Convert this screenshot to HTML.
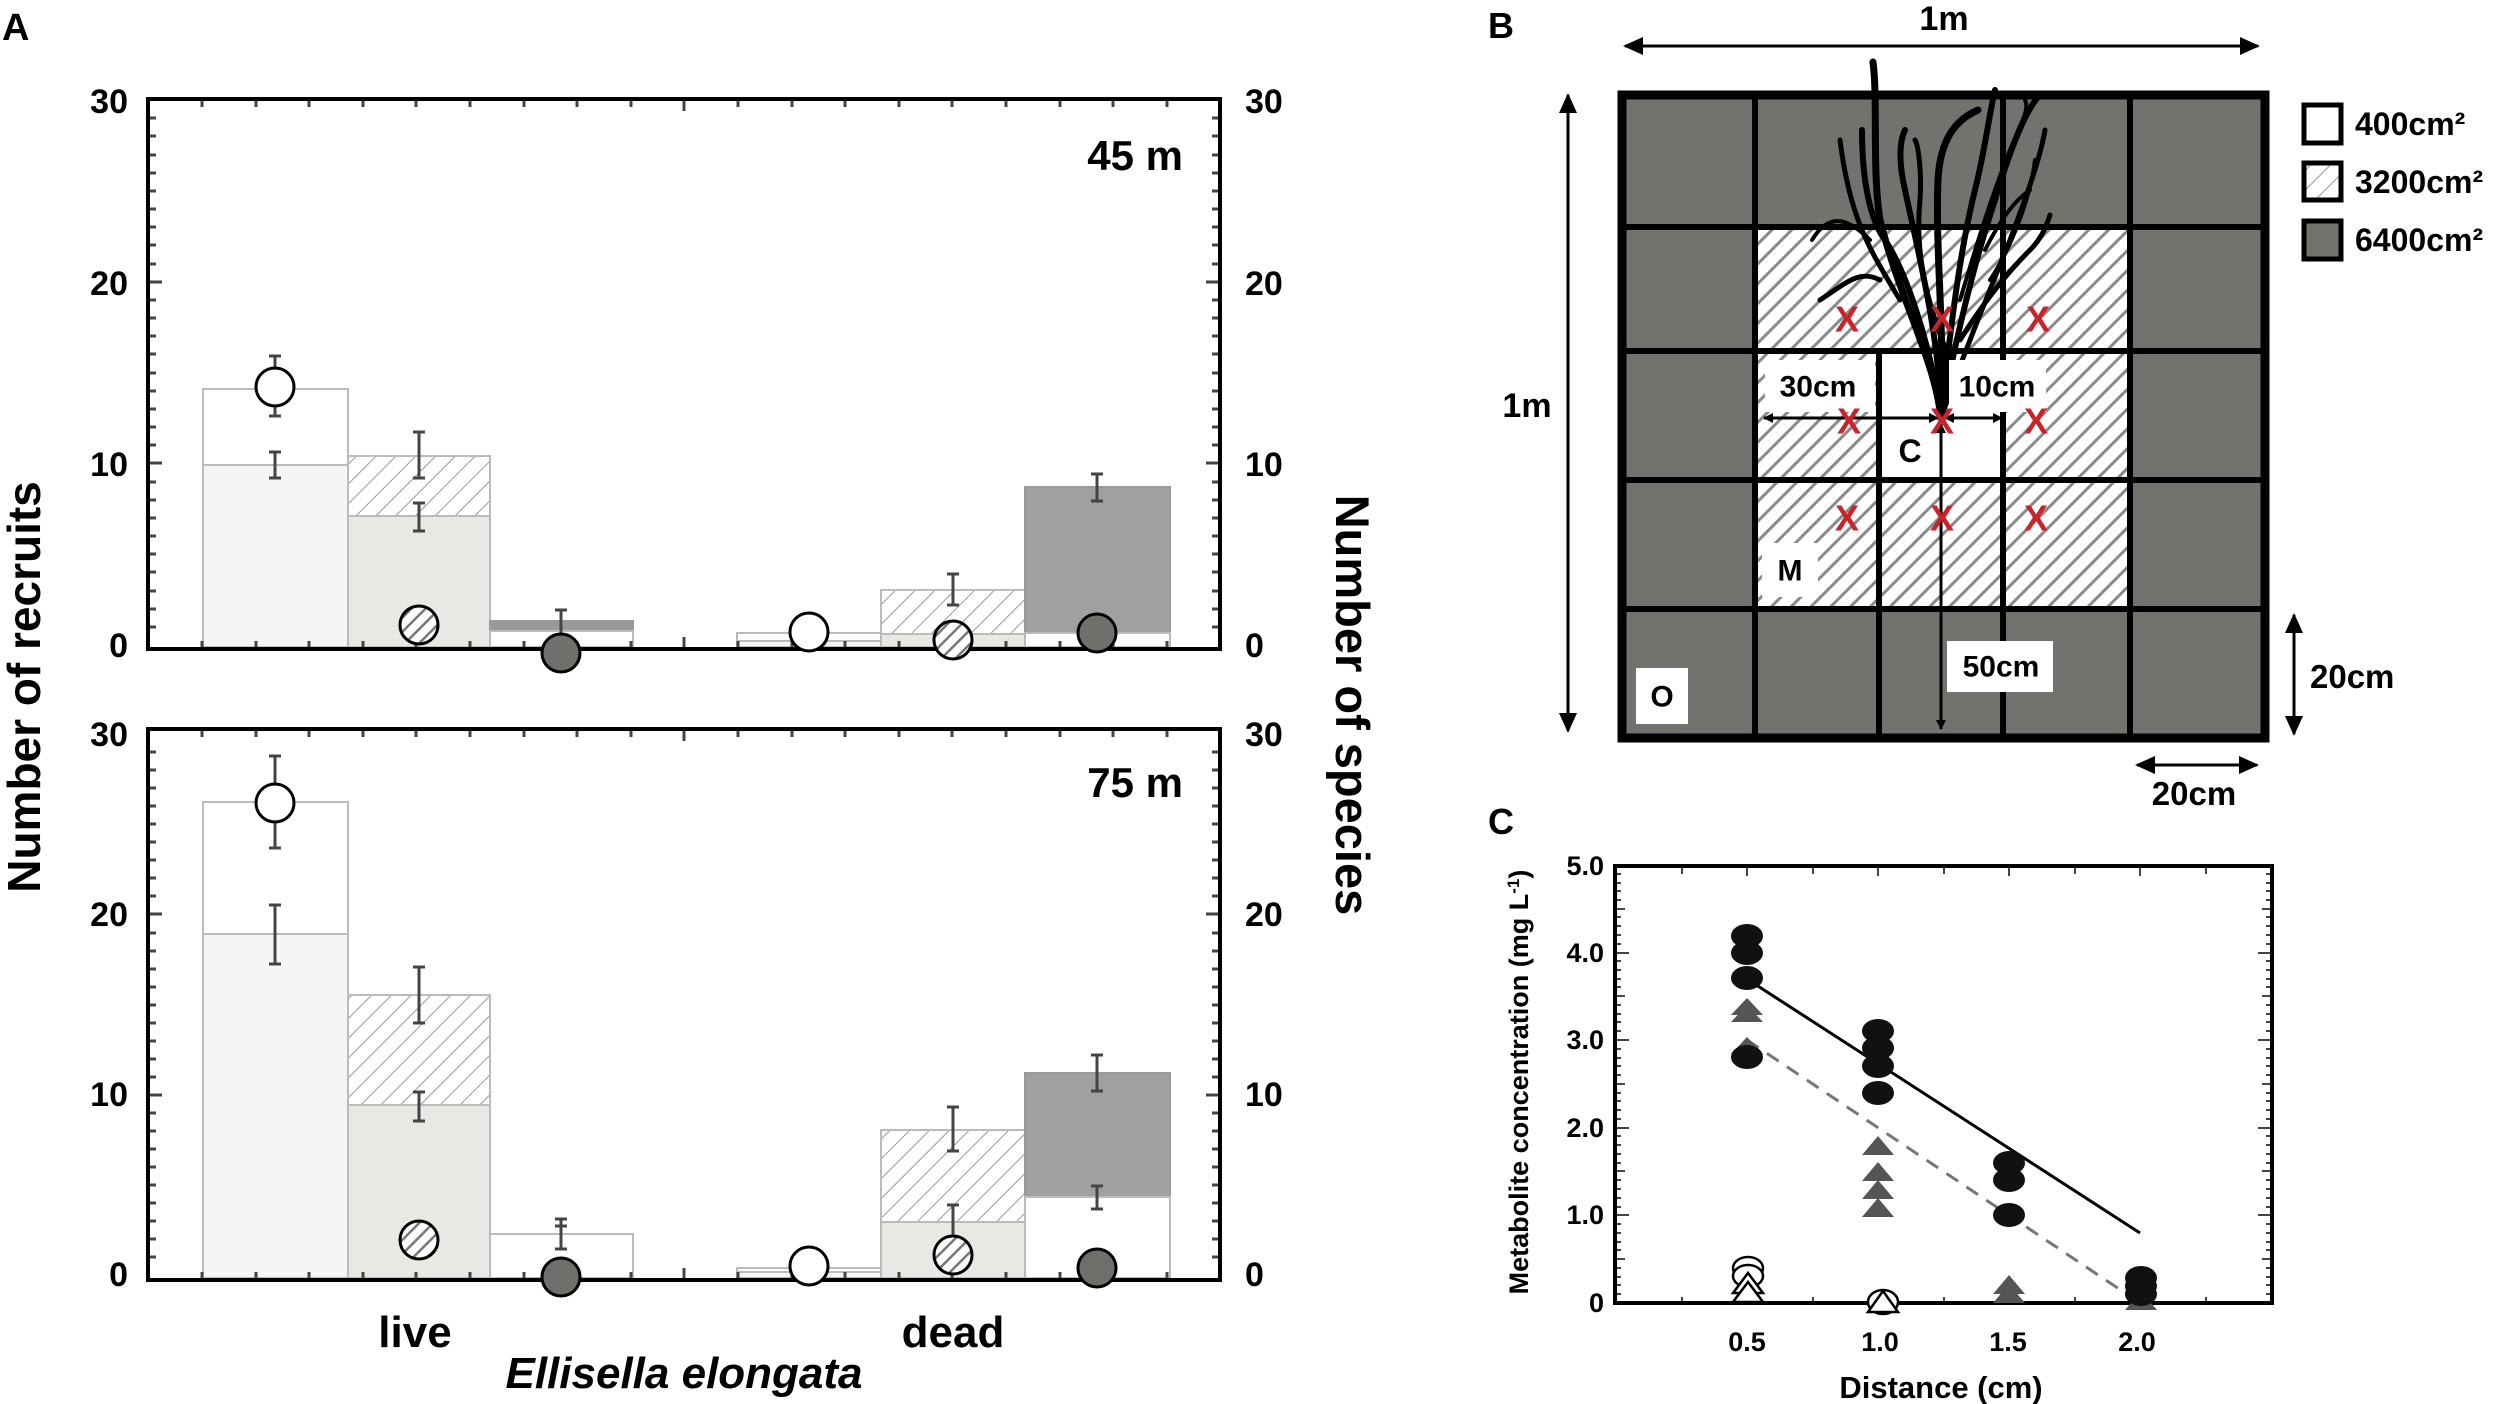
<!DOCTYPE html>
<html><head><meta charset="utf-8"><style>
html,body{margin:0;padding:0;background:#fff}
svg{display:block}
text{font-family:"Liberation Sans",Arial,sans-serif;font-weight:bold;fill:#000}
.n{font-family:"Liberation Sans Narrow","Liberation Sans",sans-serif}
</style></head><body>
<svg width="2500" height="1404" viewBox="0 0 2500 1404" xmlns="http://www.w3.org/2000/svg">
<defs>
<pattern id="hb" patternUnits="userSpaceOnUse" width="14" height="14" patternTransform="rotate(45)">
<rect width="14" height="14" fill="#fff"/><line x1="0" y1="0" x2="0" y2="14" stroke="#999" stroke-width="2"/></pattern>
<pattern id="hc" patternUnits="userSpaceOnUse" width="10" height="10" patternTransform="rotate(45)">
<rect width="10" height="10" fill="#fff"/><line x1="0" y1="0" x2="0" y2="10" stroke="#777" stroke-width="5"/></pattern>
<pattern id="hg" patternUnits="userSpaceOnUse" width="14" height="14" patternTransform="rotate(45)">
<rect width="14" height="14" fill="#fff"/><line x1="0" y1="0" x2="0" y2="14" stroke="#8a8a8a" stroke-width="6"/></pattern>
<marker id="ar" markerWidth="10" markerHeight="10" refX="9" refY="5" orient="auto-start-reverse" markerUnits="userSpaceOnUse"><path d="M0,0 L10,5 L0,10 Z" fill="#000"/></marker>
<marker id="ar2" markerWidth="20" markerHeight="18" refX="18" refY="9" orient="auto-start-reverse" markerUnits="userSpaceOnUse"><path d="M0,0 L20,9 L0,18 Z" fill="#000"/></marker>
</defs>

<!-- Panel A -->
<text x="2" y="40" font-size="38">A</text>

<g stroke="#bbb" stroke-width="2">
<rect x="203" y="389" width="145" height="258" fill="#fff"/>
<rect x="203" y="465" width="145" height="182" fill="#f5f5f3"/>
<rect x="348" y="456" width="142" height="191" fill="url(#hb)"/>
<rect x="348" y="516" width="142" height="131" fill="#e8e8e4"/>
<rect x="490" y="621" width="143" height="10" fill="#999" stroke="#999"/>
<rect x="490" y="631" width="143" height="16" fill="#fff"/>
<rect x="737" y="633" width="144" height="14" fill="#fff"/>
<rect x="737" y="641" width="144" height="6" fill="#f5f5f3"/>
<rect x="881" y="590" width="144" height="57" fill="url(#hb)"/>
<rect x="881" y="634" width="144" height="13" fill="#e8e8e4"/>
<rect x="1025" y="487" width="145" height="146" fill="#a0a0a0" stroke="#999"/>
<rect x="1025" y="633" width="145" height="14" fill="#fff"/>
</g>
<g stroke="#444" stroke-width="3">
<path d="M275,356V416M269,356H281M269,416H281"/>
<path d="M275,452V478M269,452H281M269,478H281"/>
<path d="M419,432V478M413,432H425M413,478H425"/>
<path d="M419,503V531M413,503H425M413,531H425"/>
<path d="M561,610V638M555,610H567M555,638H567"/>
<path d="M953,574V605M947,574H959M947,605H959"/>
<path d="M1097,474V501M1091,474H1103M1091,501H1103"/>
</g>
<g stroke="#bbb" stroke-width="2">
<rect x="203" y="802" width="145" height="476" fill="#fff"/>
<rect x="203" y="934" width="145" height="344" fill="#f5f5f3"/>
<rect x="348" y="995" width="142" height="283" fill="url(#hb)"/>
<rect x="348" y="1105" width="142" height="173" fill="#e8e8e4"/>
<rect x="490" y="1234" width="143" height="44" fill="#fff"/>
<rect x="737" y="1268" width="144" height="10" fill="#fff"/>
<rect x="737" y="1272" width="144" height="6" fill="#f5f5f3"/>
<rect x="881" y="1130" width="144" height="148" fill="url(#hb)"/>
<rect x="881" y="1222" width="144" height="56" fill="#e8e8e4"/>
<rect x="1025" y="1073" width="145" height="124" fill="#a0a0a0" stroke="#999"/>
<rect x="1025" y="1197" width="145" height="81" fill="#fff"/>
</g>
<g stroke="#444" stroke-width="3">
<path d="M275,756V848M269,756H281M269,848H281"/>
<path d="M275,905V964M269,905H281M269,964H281"/>
<path d="M419,967V1023M413,967H425M413,1023H425"/>
<path d="M419,1092V1121M413,1092H425M413,1121H425"/>
<path d="M561,1219V1249M555,1219H567M555,1249H567M555,1226H567"/>
<path d="M953,1107V1151M947,1107H959M947,1151H959"/>
<path d="M953,1205V1248M947,1205H959M947,1248H959"/>
<path d="M1097,1055V1091M1091,1055H1103M1091,1091H1103"/>
<path d="M1097,1186V1209M1091,1186H1103M1091,1209H1103"/>
</g>

<g stroke="#444" stroke-width="3">
<path d="M148,627h8M148,609h8M148,591h8M148,572h8M148,554h8M148,536h8M148,518h8M148,500h8M148,482h8M148,463h14M148,445h8M148,427h8M148,409h8M148,391h8M148,373h8M148,354h8M148,336h8M148,318h8M148,300h8M148,282h14M148,264h8M148,245h8M148,227h8M148,209h8M148,191h8M148,173h8M148,155h8M148,136h8M148,118h8"/>
<path d="M1220,627h-8M1220,609h-8M1220,591h-8M1220,572h-8M1220,554h-8M1220,536h-8M1220,518h-8M1220,500h-8M1220,482h-8M1220,463h-14M1220,445h-8M1220,427h-8M1220,409h-8M1220,391h-8M1220,373h-8M1220,354h-8M1220,336h-8M1220,318h-8M1220,300h-8M1220,282h-14M1220,264h-8M1220,245h-8M1220,227h-8M1220,209h-8M1220,191h-8M1220,173h-8M1220,155h-8M1220,136h-8M1220,118h-8"/>
<path d="M148,1257h8M148,1239h8M148,1221h8M148,1203h8M148,1185h8M148,1167h8M148,1149h8M148,1131h8M148,1113h8M148,1095h14M148,1077h8M148,1059h8M148,1041h8M148,1023h8M148,1005h8M148,987h8M148,969h8M148,951h8M148,933h8M148,914h14M148,896h8M148,878h8M148,860h8M148,842h8M148,824h8M148,806h8M148,788h8M148,770h8M148,752h8"/>
<path d="M1220,1257h-8M1220,1239h-8M1220,1221h-8M1220,1203h-8M1220,1185h-8M1220,1167h-8M1220,1149h-8M1220,1131h-8M1220,1113h-8M1220,1095h-14M1220,1077h-8M1220,1059h-8M1220,1041h-8M1220,1023h-8M1220,1005h-8M1220,987h-8M1220,969h-8M1220,951h-8M1220,933h-8M1220,914h-14M1220,896h-8M1220,878h-8M1220,860h-8M1220,842h-8M1220,824h-8M1220,806h-8M1220,788h-8M1220,770h-8M1220,752h-8"/>
<path d="M202,99v8M256,99v8M309,99v8M363,99v8M416,99v8M470,99v8M524,99v8M577,99v8M631,99v8M684,99v12M738,99v8M792,99v8M845,99v8M899,99v8M952,99v8M1006,99v8M1060,99v8M1113,99v8M1167,99v8"/>
<path d="M202,649v-8M256,649v-8M309,649v-8M363,649v-8M416,649v-8M470,649v-8M524,649v-8M577,649v-8M631,649v-8M684,649v-12M738,649v-8M792,649v-8M845,649v-8M899,649v-8M952,649v-8M1006,649v-8M1060,649v-8M1113,649v-8M1167,649v-8"/>
<path d="M202,729v8M256,729v8M309,729v8M363,729v8M416,729v8M470,729v8M524,729v8M577,729v8M631,729v8M684,729v12M738,729v8M792,729v8M845,729v8M899,729v8M952,729v8M1006,729v8M1060,729v8M1113,729v8M1167,729v8"/>
<path d="M202,1280v-8M256,1280v-8M309,1280v-8M363,1280v-8M416,1280v-8M470,1280v-8M524,1280v-8M577,1280v-8M631,1280v-8M684,1280v-12M738,1280v-8M792,1280v-8M845,1280v-8M899,1280v-8M952,1280v-8M1006,1280v-8M1060,1280v-8M1113,1280v-8M1167,1280v-8"/>
</g>
<rect x="148" y="99" width="1072" height="550" fill="none" stroke="#000" stroke-width="4"/>
<rect x="148" y="729" width="1072" height="551" fill="none" stroke="#000" stroke-width="4"/>

<g stroke="#000" stroke-width="3">
<circle cx="275" cy="387" r="19" fill="#fff"/>
<circle cx="419" cy="625" r="19" fill="url(#hc)"/>
<circle cx="561" cy="653" r="19" fill="#6f706c"/>
<circle cx="809" cy="632" r="19" fill="#fff"/>
<circle cx="953" cy="640" r="19" fill="url(#hc)"/>
<circle cx="1097" cy="633" r="19" fill="#6f706c"/>
<circle cx="275" cy="803" r="19" fill="#fff"/>
<circle cx="419" cy="1240" r="19" fill="url(#hc)"/>
<circle cx="561" cy="1277" r="19" fill="#6f706c"/>
<circle cx="809" cy="1266" r="19" fill="#fff"/>
<circle cx="953" cy="1255" r="19" fill="url(#hc)"/>
<circle cx="1097" cy="1268" r="19" fill="#6f706c"/>
</g>

<g font-size="34" dominant-baseline="central">
<text class="n" x="128" y="102" text-anchor="end">30</text>
<text class="n" x="128" y="284" text-anchor="end">20</text>
<text class="n" x="128" y="465" text-anchor="end">10</text>
<text class="n" x="128" y="646" text-anchor="end">0</text>
<text class="n" x="1245" y="102">30</text>
<text class="n" x="1245" y="284">20</text>
<text class="n" x="1245" y="465">10</text>
<text class="n" x="1245" y="646">0</text>
<text class="n" x="128" y="735" text-anchor="end">30</text>
<text class="n" x="128" y="915" text-anchor="end">20</text>
<text class="n" x="128" y="1095" text-anchor="end">10</text>
<text class="n" x="128" y="1275" text-anchor="end">0</text>
<text class="n" x="1245" y="735">30</text>
<text class="n" x="1245" y="915">20</text>
<text class="n" x="1245" y="1095">10</text>
<text class="n" x="1245" y="1275">0</text>
</g>
<text class="n" x="1183" y="170" font-size="42" text-anchor="end">45 m</text>
<text class="n" x="1183" y="797" font-size="42" text-anchor="end">75 m</text>
<text class="n" x="415" y="1347" font-size="44" text-anchor="middle">live</text>
<text class="n" x="953" y="1347" font-size="44" text-anchor="middle">dead</text>
<text class="n" x="684" y="1388" font-size="44" font-style="italic" text-anchor="middle">Ellisella elongata</text>
<text transform="translate(40,687) rotate(-90)" font-size="46" text-anchor="middle">Number of recruits</text>
<text transform="translate(1336,705) rotate(90)" font-size="47" text-anchor="middle">Number of species</text>

<!-- Panel B -->
<text x="1488" y="38" font-size="36">B</text>
<text class="n" x="1944" y="30" font-size="34" text-anchor="middle">1m</text>
<line x1="1625" y1="46" x2="2258" y2="46" stroke="#000" stroke-width="3" marker-start="url(#ar2)" marker-end="url(#ar2)"/>
<line x1="1568" y1="95" x2="1568" y2="731" stroke="#000" stroke-width="3" marker-start="url(#ar2)" marker-end="url(#ar2)"/>
<text class="n" x="1527" y="417" font-size="34" text-anchor="middle">1m</text>

<rect x="1622" y="95" width="643" height="643" fill="#72726f"/>
<rect x="1755" y="227" width="375" height="382" fill="url(#hg)"/>
<rect x="1879" y="351" width="124" height="129" fill="#fff"/>
<g stroke="#000" stroke-width="6">
<line x1="1755" y1="95" x2="1755" y2="738"/>
<line x1="1879" y1="351" x2="1879" y2="738"/>
<line x1="2003" y1="95" x2="2003" y2="738"/>
<line x1="2130" y1="95" x2="2130" y2="738"/>
<line x1="1622" y1="227" x2="2265" y2="227"/>
<line x1="1622" y1="351" x2="2265" y2="351"/>
<line x1="1622" y1="480" x2="2265" y2="480"/>
<line x1="1622" y1="609" x2="2265" y2="609"/>
</g>
<rect x="1622" y="95" width="643" height="643" fill="none" stroke="#000" stroke-width="9"/>

<g stroke="#000" fill="none" stroke-linecap="round">
<path d="M1941,418 C1935,360 1900,300 1880,220 C1872,170 1878,100 1873,62" stroke-width="7"/>
<path d="M1941,418 C1930,340 1905,270 1885,240 C1870,220 1862,180 1862,130" stroke-width="6"/>
<path d="M1900,300 C1870,250 1850,220 1840,140" stroke-width="5"/>
<path d="M1880,280 C1860,270 1850,280 1820,300" stroke-width="5"/>
<path d="M1870,240 C1850,220 1830,210 1812,240" stroke-width="4"/>
<path d="M1941,418 C1940,340 1920,260 1905,190 C1898,160 1900,140 1905,130" stroke-width="6"/>
<path d="M1941,418 C1945,330 1935,250 1938,180 C1940,140 1955,120 1978,110" stroke-width="7"/>
<path d="M1941,418 C1950,330 1960,250 1975,190 C1985,150 1990,110 1995,90" stroke-width="6"/>
<path d="M1941,418 C1955,340 1975,260 1995,200 C2010,150 2025,110 2040,95" stroke-width="6"/>
<path d="M1941,418 C1965,350 1990,290 2010,240 C2025,200 2040,160 2045,130" stroke-width="5"/>
<path d="M1960,340 C1985,300 2010,270 2030,250 C2040,240 2045,230 2050,215" stroke-width="5"/>
<path d="M1990,280 C2010,250 2030,200 2035,160" stroke-width="4"/>
<path d="M1950,360 C1925,300 1915,250 1920,200 C1922,170 1918,145 1915,140" stroke-width="5"/>
<path d="M1960,300 C1975,250 1990,200 2010,150 C2020,125 2030,110 2025,100" stroke-width="4"/>
<path d="M1985,250 C2000,220 2015,200 2030,190" stroke-width="4"/>
</g>

<g fill="#fff">
<rect x="1765" y="360" width="110" height="52"/>
<rect x="1949" y="360" width="97" height="52"/>
<rect x="1762" y="543" width="56" height="54"/>
<rect x="1636" y="668" width="52" height="56"/>
<rect x="1947" y="641" width="106" height="51"/>
</g>
<g font-size="30" text-anchor="middle" dominant-baseline="central">
<text class="n" x="1818" y="387">30cm</text>
<text class="n" x="1997" y="387">10cm</text>
<text class="n" x="1790" y="571">M</text>
<text class="n" x="1662" y="697">O</text>
<text class="n" x="2001" y="667">50cm</text>
<text class="n" x="1910" y="451" font-size="32">C</text>
</g>
<line x1="1764" y1="418" x2="1938" y2="418" stroke="#000" stroke-width="3" marker-start="url(#ar)" marker-end="url(#ar)"/>
<line x1="1945" y1="418" x2="2002" y2="418" stroke="#000" stroke-width="3" marker-start="url(#ar)" marker-end="url(#ar)"/>
<line x1="1941" y1="424" x2="1941" y2="729" stroke="#000" stroke-width="3" marker-start="url(#ar)" marker-end="url(#ar)"/>
<g font-size="36" text-anchor="middle" dominant-baseline="central">
<text x="1847" y="319" style="fill:#c8242a">X</text>
<text x="1942" y="319" style="fill:#c8242a">X</text>
<text x="2038" y="319" style="fill:#c8242a">X</text>
<text x="1849" y="421" style="fill:#c8242a">X</text>
<text x="1942" y="421" style="fill:#c8242a">X</text>
<text x="2036" y="421" style="fill:#c8242a">X</text>
<text x="1847" y="518" style="fill:#c8242a">X</text>
<text x="1942" y="518" style="fill:#c8242a">X</text>
<text x="2036" y="518" style="fill:#c8242a">X</text>
</g>

<line x1="2294" y1="615" x2="2294" y2="734" stroke="#000" stroke-width="3" marker-start="url(#ar2)" marker-end="url(#ar2)"/>
<text class="n" x="2310" y="688" font-size="33">20cm</text>
<line x1="2137" y1="765" x2="2257" y2="765" stroke="#000" stroke-width="3" marker-start="url(#ar2)" marker-end="url(#ar2)"/>
<text class="n" x="2194" y="805" font-size="33" text-anchor="middle">20cm</text>

<rect x="2304" y="105" width="37" height="38" fill="#fff" stroke="#000" stroke-width="5"/>
<rect x="2304" y="163" width="37" height="37" fill="url(#hb)" stroke="#000" stroke-width="5"/>
<rect x="2304" y="221" width="37" height="38" fill="#72726f" stroke="#000" stroke-width="5"/>
<g font-size="32" dominant-baseline="central">
<text class="n" x="2355" y="124">400cm²</text>
<text class="n" x="2355" y="182">3200cm²</text>
<text class="n" x="2355" y="240">6400cm²</text>
</g>

<!-- Panel C -->
<text x="1488" y="834" font-size="36">C</text>
<g stroke="#444" stroke-width="2">
<path d="M1615,1294h6M1615,1285h6M1615,1277h6M1615,1268h6M1615,1259h10M1615,1250h6M1615,1242h6M1615,1233h6M1615,1224h6M1615,1215h14M1615,1207h6M1615,1198h6M1615,1189h6M1615,1180h6M1615,1171h10M1615,1163h6M1615,1154h6M1615,1145h6M1615,1136h6M1615,1128h14M1615,1119h6M1615,1110h6M1615,1101h6M1615,1093h6M1615,1084h10M1615,1075h6M1615,1066h6M1615,1058h6M1615,1049h6M1615,1040h14M1615,1031h6M1615,1022h6M1615,1014h6M1615,1005h6M1615,996h10M1615,987h6M1615,979h6M1615,970h6M1615,961h6M1615,953h14M1615,944h6M1615,935h6M1615,926h6M1615,917h6M1615,909h10M1615,900h6M1615,891h6M1615,883h6M1615,874h6"/>
<path d="M2272,1294h-6M2272,1285h-6M2272,1277h-6M2272,1268h-6M2272,1259h-10M2272,1250h-6M2272,1242h-6M2272,1233h-6M2272,1224h-6M2272,1215h-14M2272,1207h-6M2272,1198h-6M2272,1189h-6M2272,1180h-6M2272,1171h-10M2272,1163h-6M2272,1154h-6M2272,1145h-6M2272,1136h-6M2272,1128h-14M2272,1119h-6M2272,1110h-6M2272,1101h-6M2272,1093h-6M2272,1084h-10M2272,1075h-6M2272,1066h-6M2272,1058h-6M2272,1049h-6M2272,1040h-14M2272,1031h-6M2272,1022h-6M2272,1014h-6M2272,1005h-6M2272,996h-10M2272,987h-6M2272,979h-6M2272,970h-6M2272,961h-6M2272,953h-14M2272,944h-6M2272,935h-6M2272,926h-6M2272,917h-6M2272,909h-10M2272,900h-6M2272,891h-6M2272,883h-6M2272,874h-6"/>
<path d="M1682,866v8M1747,866v10M1813,866v8M1878,866v10M1944,866v8M2009,866v10M2075,866v8M2140,866v10M2206,866v8"/>
<path d="M1682,1303v-6M1747,1303v-8M1813,1303v-6M1878,1303v-8M1944,1303v-6M2009,1303v-8M2075,1303v-6M2140,1303v-8M2206,1303v-6"/>
</g>
<rect x="1615" y="866" width="657" height="437" fill="none" stroke="#000" stroke-width="4"/>
<line x1="1747" y1="979" x2="2140" y2="1233" stroke="#000" stroke-width="3"/>
<line x1="1747" y1="1040" x2="2140" y2="1303" stroke="#777" stroke-width="3" stroke-dasharray="14,10"/>

<g fill="#555">
<path d="M1747,998 l-16,17 h32 Z"/>
<path d="M1747,1005 l-16,17 h32 Z"/>
<path d="M1747,1037 l-16,17 h32 Z"/>
<path d="M1878,1136 l-16,19 h32 Z"/>
<path d="M1878,1162 l-16,19 h32 Z"/>
<path d="M1878,1180 l-16,19 h32 Z"/>
<path d="M1878,1198 l-16,19 h32 Z"/>
<path d="M2009,1275 l-16,19 h32 Z"/>
<path d="M2009,1284 l-16,19 h32 Z"/>
<path d="M2141,1291 l-16,19 h32 Z"/>
</g>
<g fill="#111">
<ellipse cx="1747" cy="936" rx="16" ry="12"/>
<ellipse cx="1747" cy="953" rx="16" ry="12"/>
<ellipse cx="1747" cy="978" rx="16" ry="12"/>
<ellipse cx="1747" cy="1057" rx="16" ry="12"/>
<ellipse cx="1878" cy="1031" rx="16" ry="12"/>
<ellipse cx="1878" cy="1048" rx="16" ry="12"/>
<ellipse cx="1878" cy="1066" rx="16" ry="12"/>
<ellipse cx="1878" cy="1093" rx="16" ry="12"/>
<ellipse cx="2009" cy="1163" rx="16" ry="12"/>
<ellipse cx="2009" cy="1180" rx="16" ry="12"/>
<ellipse cx="2009" cy="1215" rx="16" ry="12"/>
<ellipse cx="2141" cy="1278" rx="16" ry="12"/>
<ellipse cx="2141" cy="1286" rx="16" ry="12"/>
<ellipse cx="2141" cy="1294" rx="16" ry="12"/>
</g>
<g fill="#fff" stroke="#000" stroke-width="2.5">
<ellipse cx="1748" cy="1268" rx="15" ry="11"/>
<ellipse cx="1748" cy="1276" rx="15" ry="11"/>
<path d="M1748,1273 l-15,20 h30 Z"/>
<path d="M1748,1282 l-15,20 h30 Z"/>
<ellipse cx="1883" cy="1302" rx="15" ry="12"/>
<path d="M1883,1291 l-15,21 h30 Z"/>
</g>

<g font-size="27" text-anchor="end" dominant-baseline="central">
<text class="n" x="1604" y="866">5.0</text>
<text class="n" x="1604" y="953">4.0</text>
<text class="n" x="1604" y="1040">3.0</text>
<text class="n" x="1604" y="1128">2.0</text>
<text class="n" x="1604" y="1215">1.0</text>
<text class="n" x="1604" y="1303">0</text>
</g>
<g font-size="27" text-anchor="middle">
<text class="n" x="1747" y="1351">0.5</text>
<text class="n" x="1880" y="1351">1.0</text>
<text class="n" x="2008" y="1351">1.5</text>
<text class="n" x="2137" y="1351">2.0</text>
</g>
<text class="n" x="1941" y="1398" font-size="31" text-anchor="middle">Distance (cm)</text>
<text transform="translate(1528,1082) rotate(-90)" font-size="27" text-anchor="middle">Metabolite concentration (mg L<tspan dy="-9" font-size="17">-1</tspan><tspan dy="9">)</tspan></text>
</svg>
</body></html>
